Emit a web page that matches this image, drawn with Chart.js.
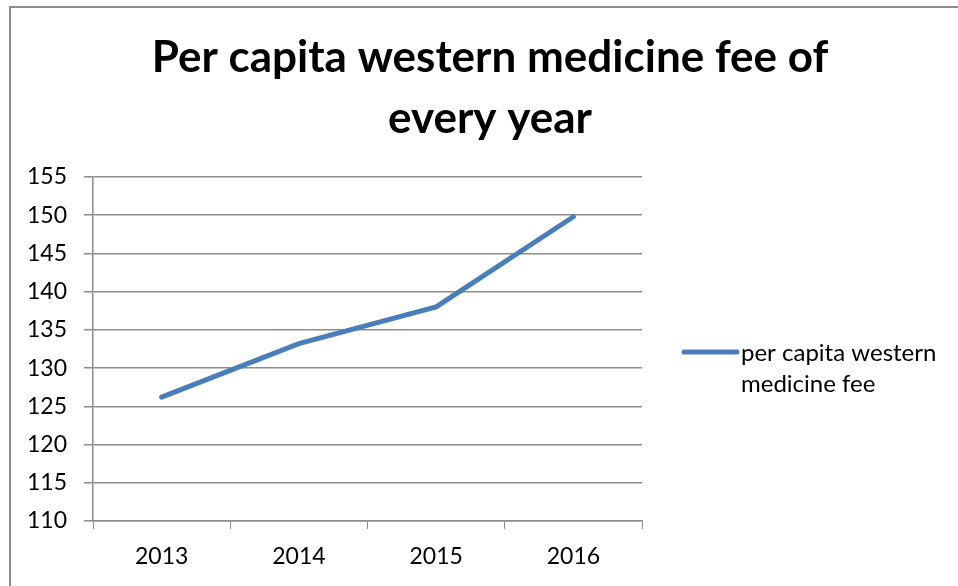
<!DOCTYPE html>
<html>
<head>
<meta charset="utf-8">
<script src="https://cdn.jsdelivr.net/npm/chart.js@4"></script>
<style>
  html, body { margin: 0; padding: 0; background: #ffffff; }
  .wrap { position: relative; width: 958px; height: 586px; }
  .frame {
    position: absolute; left: 9px; top: 6px; right: -2px; bottom: -2px;
    border: 2px solid #8c8c8c; pointer-events: none;
  }
  canvas { position: absolute; left: 0; top: 0; }
</style>
</head>
<body>
<div class="wrap">
  <canvas id="feeChart" width="958" height="586"></canvas>
  <div class="frame"></div>
</div>
<script>
const years = ["2013", "2014", "2015", "2016"];
const feeValues = [126.2, 133.2, 138.0, 149.8];
const seriesLabel = ["per capita western", "medicine fee"];
const titleLines = ["Per capita western medicine fee of", "every year"];
const yTicks = { min: 110, max: 155, step: 5 };

const lineColor = "#4a7ebb";
const gridColor = "#8c8c8c";
const fontFamily = "Lato, 'Open Sans', 'DejaVu Sans', sans-serif";

// title centred on the whole picture, legend on the right
const sideText = {
  id: "sideText",
  afterDraw(chart) {
    const ctx = chart.ctx;
    const ds = chart.data.datasets[0];
    ctx.save();
    ctx.fillStyle = "#000000";
    ctx.textAlign = "center";
    ctx.textBaseline = "middle";
    ctx.font = "bold 44px " + fontFamily;
    titleLines.forEach((row, i) => ctx.fillText(row, 490, 58 + i * 61));

    ctx.strokeStyle = ds.borderColor;
    ctx.lineWidth = 5;
    ctx.lineCap = "round";
    ctx.beginPath();
    ctx.moveTo(684, 352);
    ctx.lineTo(737, 352);
    ctx.stroke();
    ctx.font = "24px " + fontFamily;
    ctx.textAlign = "left";
    seriesLabel.forEach((row, i) => ctx.fillText(row, 741, 353 + i * 31));
    ctx.restore();
  }
};

new Chart(document.getElementById("feeChart"), {
  type: "line",
  data: {
    labels: years,
    datasets: [{
      label: seriesLabel.join(" "),
      data: feeValues,
      borderColor: lineColor,
      borderWidth: 5,
      borderCapStyle: "round",
      pointRadius: 0,
      tension: 0,
      fill: false
    }]
  },
  options: {
    responsive: false,
    animation: false,
    layout: { padding: { left: 0, right: 316, top: 177, bottom: 0 } },
    plugins: {
      legend: { display: false },
      tooltip: { enabled: false },
      title: { display: false }
    },
    scales: {
      x: {
        offset: true,
        grid: {
          offset: true,
          drawOnChartArea: false,
          drawTicks: true,
          tickLength: 8,
          color: gridColor
        },
        border: { color: gridColor, width: 1.5 },
        ticks: {
          color: "#000000",
          padding: 14,
          font: { family: fontFamily, size: 23 }
        },
        afterFit(scale) { scale.height = 65; }
      },
      y: {
        min: yTicks.min,
        max: yTicks.max,
        grid: { color: gridColor, lineWidth: 1.5, tickLength: 9 },
        border: { color: gridColor, width: 1.5 },
        ticks: {
          stepSize: yTicks.step,
          color: "#000000",
          padding: 17,
          font: { family: fontFamily, size: 23 }
        },
        afterFit(scale) { scale.width = 93; }
      }
    }
  },
  plugins: [sideText]
});
</script>
</body>
</html>
